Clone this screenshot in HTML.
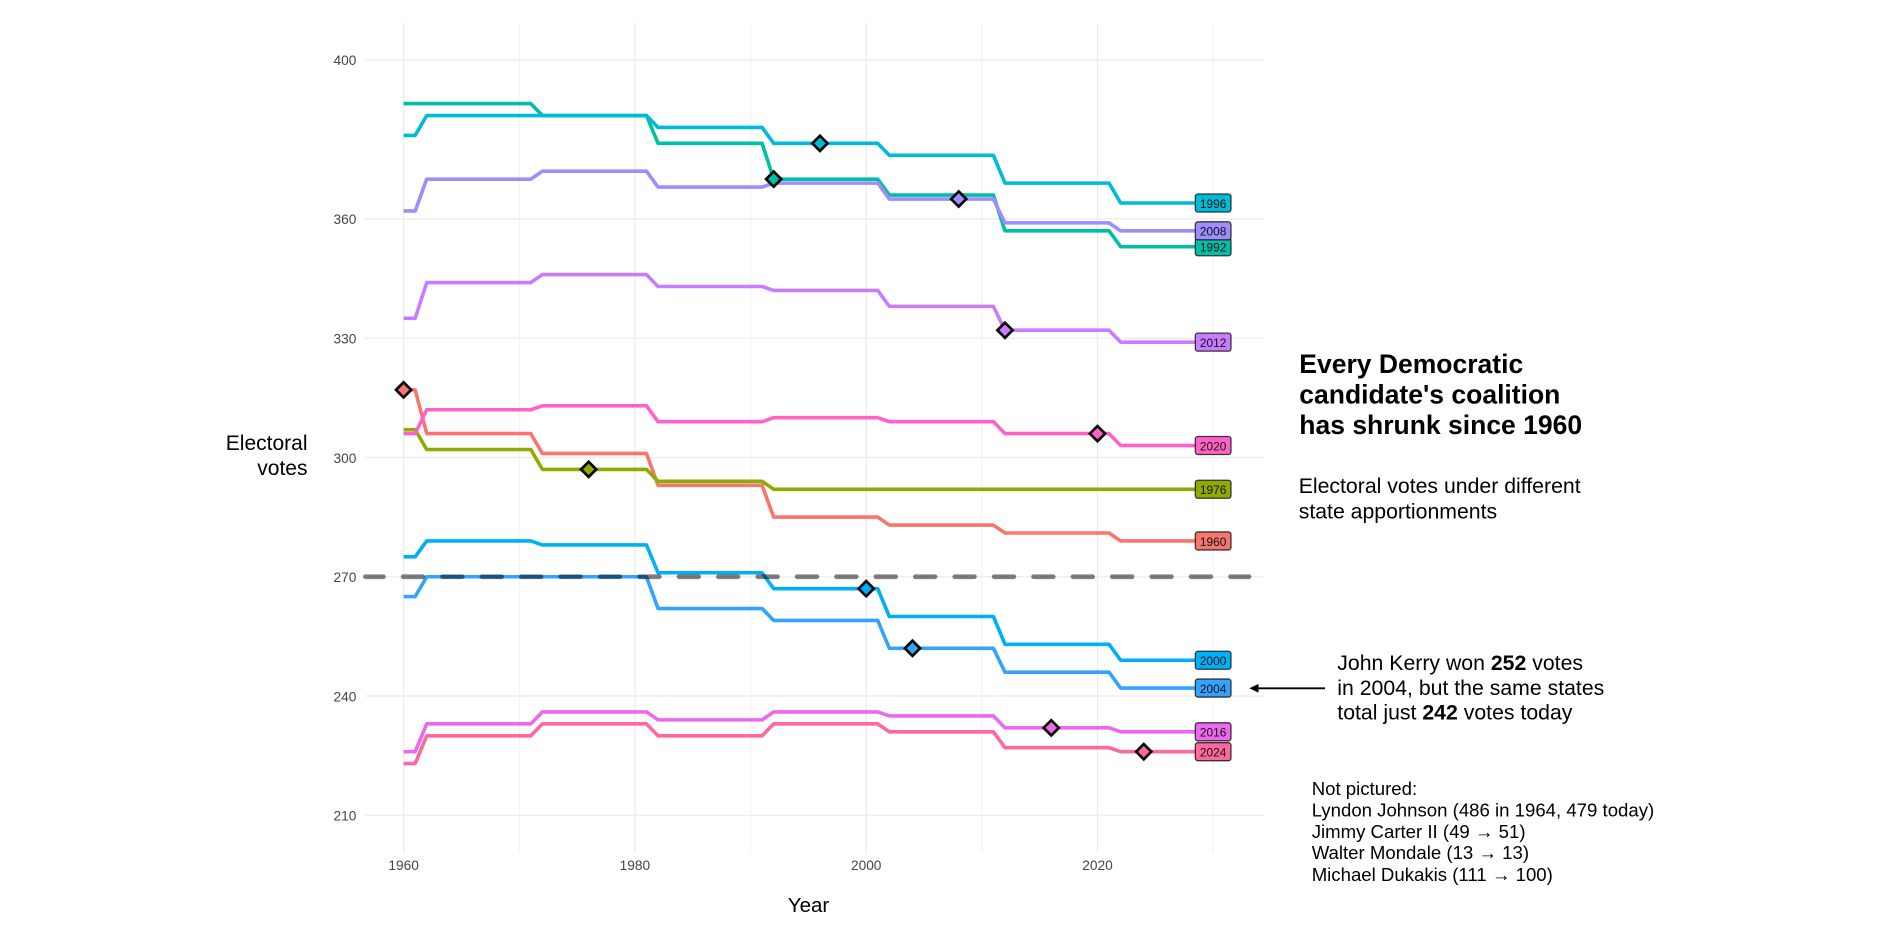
<!DOCTYPE html>
<html lang="en">
<head>
<meta charset="utf-8">
<title>Every Democratic candidate's coalition has shrunk since 1960</title>
<style>
  html, body { margin: 0; padding: 0; background: #fff; }
  body { width: 1904px; height: 929px; overflow: hidden; }
  svg { display: block; font-family: "Liberation Sans", Arial, sans-serif; }
  .grid-major { stroke: #ebebeb; stroke-width: 1.2; fill: none; }
  .grid-minor { stroke: #f1f1f1; stroke-width: 1; fill: none; }
  .tick { font-size: 13.7px; fill: #444; }
  .series-line { fill: none; stroke: var(--c); stroke-width: 3.6; stroke-linejoin: round; stroke-linecap: butt; }
  .marker { fill: var(--c); stroke: #0c0c0c; stroke-width: 2.7; stroke-linejoin: miter; }
  .label-box { fill: var(--c); stroke: #1b1b1b; stroke-opacity: .85; stroke-width: 1.3; }
  .label-text { font-size: 11.9px; fill: #111; text-anchor: middle; }
  .s1960 { --c: #F8766D; }
  .s1976 { --c: #8FAA00; }
  .s1992 { --c: #00BFA5; }
  .s1996 { --c: #00BBD6; }
  .s2000 { --c: #00B0F6; }
  .s2004 { --c: #33A3FF; }
  .s2008 { --c: #9F8CFF; }
  .s2012 { --c: #C97CFF; }
  .s2016 { --c: #EC69EF; }
  .s2020 { --c: #FF61C8; }
  .s2024 { --c: #FF689E; }
</style>
</head>
<body>
<svg id="chart" width="1904" height="929" viewBox="0 0 1904 929" xmlns="http://www.w3.org/2000/svg">
  <rect x="0" y="0" width="1904" height="929" fill="#fff"/>
  <g id="grid"></g>
  <g id="y-ticks"></g>
  <g id="x-ticks"></g>
  <g id="lines"></g>
  <g id="threshold"></g>
  <g id="markers"></g>
  <g id="labels"></g>

  <g font-size="21" fill="#000" text-anchor="end">
    <text x="307.5" y="450">Electoral</text>
    <text x="307.5" y="475">votes</text>
  </g>
  <text x="808.5" y="912" font-size="20.5" fill="#000" text-anchor="middle">Year</text>

  <text font-size="26.5" font-weight="700" fill="#000">
    <tspan x="1299.3" y="373">Every Democratic</tspan>
    <tspan x="1299.3" y="403.5">candidate's coalition</tspan>
    <tspan x="1299.3" y="434">has shrunk since 1960</tspan>
  </text>
  <text font-size="21.25" fill="#000">
    <tspan x="1298.7" y="493">Electoral votes under different</tspan>
    <tspan x="1298.7" y="518.3">state apportionments</tspan>
  </text>

  <g>
    <line x1="1325" y1="688.3" x2="1256" y2="688.3" stroke="#000" stroke-width="1.8"/>
    <polygon points="1249.3,688.3 1258.5,684 1258.5,692.6" fill="#000"/>
  </g>
  <text font-size="21.25" fill="#000">
    <tspan x="1337.3" y="670">John Kerry won <tspan font-weight="700">252</tspan> votes</tspan>
    <tspan x="1337.3" y="695">in 2004, but the same states</tspan>
    <tspan x="1337.3" y="719.5">total just <tspan font-weight="700">242</tspan> votes today</tspan>
  </text>

  <text font-size="18.6" fill="#000">
    <tspan x="1311.7" y="795">Not pictured:</tspan>
    <tspan x="1311.7" y="816.5">Lyndon Johnson (486 in 1964, 479 today)</tspan>
    <tspan x="1311.7" y="838">Jimmy Carter II (49 → 51)</tspan>
    <tspan x="1311.7" y="859">Walter Mondale (13 → 13)</tspan>
    <tspan x="1311.7" y="881">Michael Dukakis (111 → 100)</tspan>
  </text>
</svg>

<script>
// ---- chart data ----
const xTickLabels = [1960, 1980, 2000, 2020];
const xMinorBreaks = [1970, 1990, 2010, 2030];
const yTickLabels = [210, 240, 270, 300, 330, 360, 400];
const thresholdVotes = 270;

// Years where each series changes apportionment (flat between pairs)
const periodYears = [1960, 1961, 1962, 1971, 1972, 1981, 1982, 1991, 1992, 2001, 2002, 2011, 2012, 2021, 2022, 2030];

const votes1960 = [317, 317, 306, 306, 301, 301, 293, 293, 285, 285, 283, 283, 281, 281, 279, 279];
const votes1976 = [307, 307, 302, 302, 297, 297, 294, 294, 292, 292, 292, 292, 292, 292, 292, 292];
const votes1992 = [389, 389, 389, 389, 386, 386, 379, 379, 370, 370, 366, 366, 357, 357, 353, 353];
const votes1996 = [381, 381, 386, 386, 386, 386, 383, 383, 379, 379, 376, 376, 369, 369, 364, 364];
const votes2000 = [275, 275, 279, 279, 278, 278, 271, 271, 267, 267, 260, 260, 253, 253, 249, 249];
const votes2004 = [265, 265, 270, 270, 270, 270, 262, 262, 259, 259, 252, 252, 246, 246, 242, 242];
const votes2008 = [362, 362, 370, 370, 372, 372, 368, 368, 369, 369, 365, 365, 359, 359, 357, 357];
const votes2012 = [335, 335, 344, 344, 346, 346, 343, 343, 342, 342, 338, 338, 332, 332, 329, 329];
const votes2016 = [226, 226, 233, 233, 236, 236, 234, 234, 236, 236, 235, 235, 232, 232, 231, 231];
const votes2020 = [306, 306, 312, 312, 313, 313, 309, 309, 310, 310, 309, 309, 306, 306, 303, 303];
const votes2024 = [223, 223, 230, 230, 233, 233, 230, 230, 233, 233, 231, 231, 227, 227, 226, 226];

const electionYears = [1960, 1976, 1992, 1996, 2000, 2004, 2008, 2012, 2016, 2020, 2024];
const seriesVotes = [votes1960, votes1976, votes1992, votes1996, votes2000, votes2004, votes2008, votes2012, votes2016, votes2020, votes2024];

// ---- axis functions ----
function xAxis(year) { return 403.6 + (year - 1960) * 11.565; }
function yAxis(votes) { return 815.3 - (votes - 210) * 3.976; }

const panel = { left: 365, right: 1264, top: 23, bottom: 853 };
const SVGNS = 'http://www.w3.org/2000/svg';

function make(tag, attrs, parent) {
  const el = document.createElementNS(SVGNS, tag);
  for (const k in attrs) el.setAttribute(k, attrs[k]);
  parent.appendChild(el);
  return el;
}

function valueAt(votes, year) {
  for (let i = 0; i < periodYears.length - 1; i++) {
    if (year >= periodYears[i] && year <= periodYears[i + 1]) {
      const t = (year - periodYears[i]) / (periodYears[i + 1] - periodYears[i]);
      return votes[i] + (votes[i + 1] - votes[i]) * t;
    }
  }
  return votes[votes.length - 1];
}

const gridG = document.getElementById('grid');
const yTickG = document.getElementById('y-ticks');
const xTickG = document.getElementById('x-ticks');
const linesG = document.getElementById('lines');
const thresholdG = document.getElementById('threshold');
const markersG = document.getElementById('markers');
const labelsG = document.getElementById('labels');

xMinorBreaks.forEach(function (yr) {
  const g = make('line', { class: 'grid-minor', x1: xAxis(yr), x2: xAxis(yr), y1: panel.top, y2: panel.bottom }, gridG);
  
  
});

xTickLabels.forEach(function (yr) {
  const g = make('line', { class: 'grid-major', x1: xAxis(yr), x2: xAxis(yr), y1: panel.top, y2: panel.bottom }, gridG);
  
  
  const t = make('text', { class: 'tick', x: xAxis(yr), y: 870, 'text-anchor': 'middle' }, xTickG);
  
  
  t.textContent = yr;
});

yTickLabels.forEach(function (v) {
  const g = make('line', { class: 'grid-major', x1: panel.left, x2: panel.right, y1: yAxis(v), y2: yAxis(v) }, gridG);
  
  
  const t = make('text', { class: 'tick', x: 356.4, y: yAxis(v) + 5.3, 'text-anchor': 'end' }, yTickG);
  
  
  t.textContent = v;
});

seriesVotes.forEach(function (votes, i) {
  const pts = votes.map(function (v, j) { return xAxis(periodYears[j]).toFixed(2) + ',' + yAxis(v).toFixed(2); }).join(' ');
  const line = make('polyline', { class: 'series-line s' + electionYears[i], points: pts }, linesG);
  
  
});

const dash = make('line', {
  x1: 365.4, x2: 1249, y1: yAxis(thresholdVotes), y2: yAxis(thresholdVotes),
  stroke: '#000', 'stroke-opacity': 0.5, 'stroke-width': 4.8,
  'stroke-linecap': 'round', 'stroke-dasharray': '19.6 19.8', 'stroke-dashoffset': 1.6
}, thresholdG);



seriesVotes.forEach(function (votes, i) {
  const yr = electionYears[i];
  const cx = xAxis(yr);
  const cy = yAxis(valueAt(votes, yr));
  const r = 7.6;
  const pts = [[cx - r, cy], [cx, cy - r], [cx + r, cy], [cx, cy + r]].map(function (p) { return p[0].toFixed(2) + ',' + p[1].toFixed(2); }).join(' ');
  const m = make('polygon', { class: 'marker s' + yr, points: pts }, markersG);
  
  
});

seriesVotes.forEach(function (votes, i) {
  const yr = electionYears[i];
  const cx = xAxis(2030);
  const cy = yAxis(votes[votes.length - 1]);
  const g = make('g', { class: 's' + yr }, labelsG);
  
  
  const box = make('rect', { class: 'label-box', x: cx - 17.8, y: cy - 9, width: 35.6, height: 18, rx: 2.5, ry: 2.5 }, g);
  
  
  const t = make('text', { class: 'label-text', x: cx, y: cy + 4.9 }, g);
  
  
  t.textContent = yr;
});
</script>
</body>
</html>
